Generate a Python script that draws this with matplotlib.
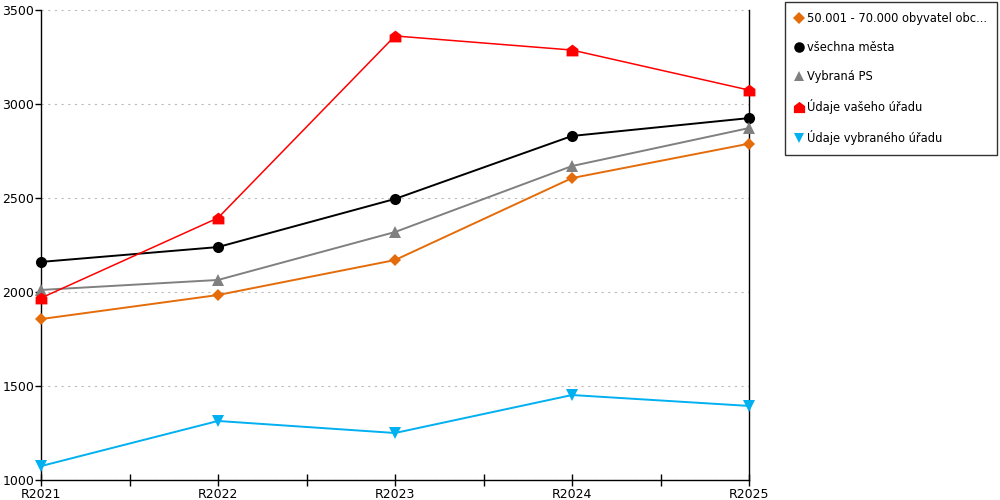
import matplotlib.pyplot as plt
import numpy as np
from matplotlib.path import Path

categories = ["R2021", "R2022", "R2023", "R2024", "R2025"]

obce_50_70 = [1856, 1984, 2170, 2606, 2789]
vsechna_mesta = [2160, 2239, 2495, 2830, 2925]
vybrana_ps = [2011, 2064, 2319, 2670, 2872]
vas_urad = [1968, 2394, 3362, 3287, 3074]
vybrany_urad = [1074, 1314, 1250, 1452, 1394]

labels = ["50.001 - 70.000 obyvatel obc...", "všechna města", "Vybraná PS",
          "Údaje vašeho úřadu", "Údaje vybraného úřadu"]

# house-shaped marker for "vaseho uradu"
house = Path([(-1, -1), (1, -1), (1, 0.25), (0, 1), (-1, 0.25), (-1, -1)],
             [Path.MOVETO, Path.LINETO, Path.LINETO, Path.LINETO, Path.LINETO, Path.CLOSEPOLY])

series = [
    (obce_50_70, "#E46C0A", "D", 6, 1.4),
    (vsechna_mesta, "#000000", "o", 8, 1.4),
    (vybrana_ps, "#808080", "^", 8, 1.4),
    (vas_urad, "#FF0000", house, 8.5, 1.1),
    (vybrany_urad, "#00B0F0", "v", 8, 1.4),
]

plt.rcParams['font.family'] = ['DejaVu Sans']

fig = plt.figure(figsize=(10, 5), dpi=100)
fig.set_facecolor("white")
ax = fig.add_axes([0.041, 0.04, 0.708, 0.94])

x = np.arange(len(categories))
handles = []
for (vals, col, mk, ms, lw), lab in zip(series, labels):
    h, = ax.plot(x, vals, color=col, lw=lw, marker=mk, markersize=ms,
                 markeredgewidth=0, label=lab, zorder=3, clip_on=False)
    handles.append(h)

ax.set_xlim(0, len(categories) - 1)
ax.set_ylim(1000, 3500)
ax.set_yticks([1000, 1500, 2000, 2500, 3000, 3500])
ax.set_xticks(x)
ax.set_xticklabels(categories)
ax.set_xticks(x[:-1] + 0.5, minor=True)
ax.tick_params(axis='x', which='both', direction='inout', length=9, width=1, labelsize=9, pad=1)
ax.tick_params(axis='y', direction='out', length=4, width=1, labelsize=9, pad=1)

ax.yaxis.grid(True, color="#BBBBBB", linestyle=(0, (2, 4)), linewidth=0.8)
ax.set_axisbelow(True)
ax.spines["top"].set_visible(False)
for s in ["left", "bottom", "right"]:
    ax.spines[s].set_linewidth(1)
    ax.spines[s].set_color("black")

leg = ax.legend(handles=handles, loc="upper left", bbox_to_anchor=(1.051, 1.017),
                borderaxespad=0, frameon=True, fancybox=False, fontsize=8.3,
                labelspacing=1.4, handlelength=0.7, handletextpad=0.35,
                borderpad=0.85, markerscale=0.95)
leg.get_frame().set_edgecolor("black")
leg.get_frame().set_linewidth(1)
for lh in leg.get_lines():
    lh.set_linestyle("none")

fig.savefig("out.png", dpi=100)
